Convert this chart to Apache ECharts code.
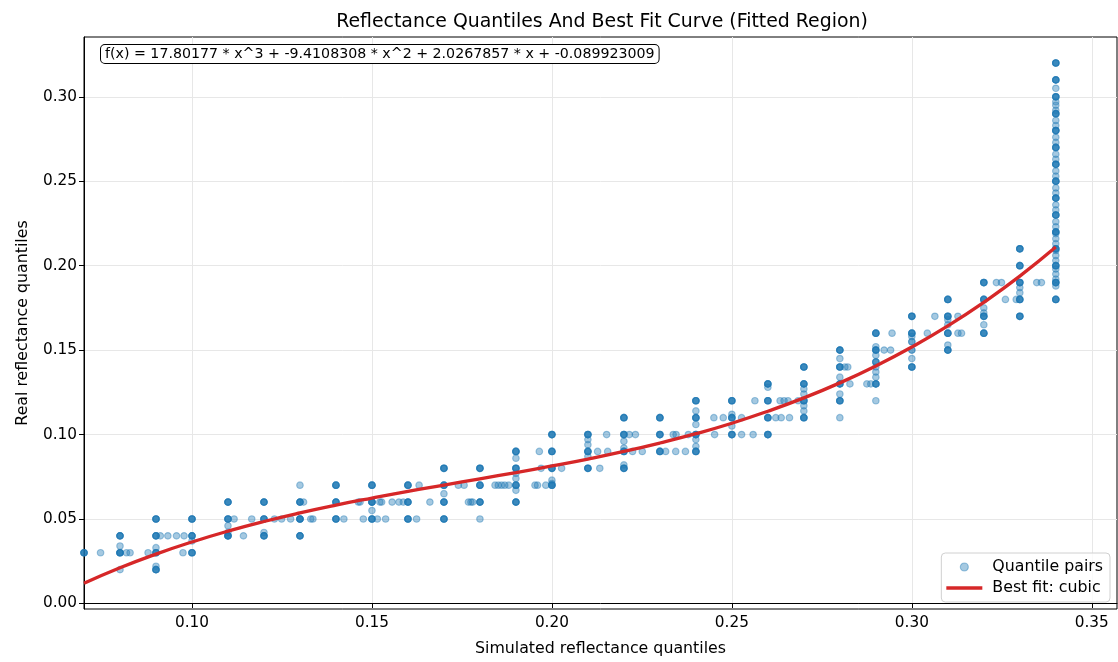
<!DOCTYPE html>
<html><head><meta charset="utf-8">
<script src="https://cdn.jsdelivr.net/npm/echarts@6/dist/echarts.min.js"></script>
<style>html,body{margin:0;padding:0;background:#fff}#c{width:1118px;height:662px}</style>
</head><body><div id="c"></div>
<script>
// Simulated (x) / real (y) reflectance quantile pairs; count = how many pairs share that spot
const quantileSim = [
  0.07,0.0746,
  0.08,0.08,0.08,0.08,0.0818,0.0828,0.0878,
  0.09,0.09,0.09,0.09,0.09,0.09,0.0912,0.0933,0.0957,0.0978,0.0975,
  0.10,0.10,0.10,0.10,
  0.11,0.11,0.11,0.11,0.11,0.1117,0.1143,0.1166,
  0.12,0.12,0.12,0.12,0.1229,0.1249,0.1274,
  0.13,0.13,0.13,0.13,0.131,0.133,0.1336,
  0.14,0.14,0.14,0.1422,0.1462,0.1467,0.1476,
  0.15,0.15,0.15,0.15,0.1515,0.1522,0.1527,0.1538,0.1556,0.1575,0.1587,
  0.16,0.16,0.16,0.1624,0.1631,0.1661,
  0.17,0.17,0.17,0.17,0.17,0.174,0.1756,0.1768,0.1775,0.178,
  0.18,0.18,0.18,0.18,0.1842,0.1851,0.186,0.1869,0.188,
  0.19,0.19,0.19,0.19,0.19,0.19,0.19,0.19,0.1953,0.196,0.1965,0.197,0.1983,0.2027,
  0.20,0.20,0.20,0.20,0.20,0.20,
  0.21,0.21,0.21,0.21,0.21,0.21,0.2127,0.2133,0.2152,0.2155,
  0.22,0.22,0.22,0.22,0.22,0.22,0.22,0.2215,0.2224,0.2232,0.2251,
  0.23,0.23,0.23,0.2316,0.2337,0.2345,0.2344,0.2371,0.2379,
  0.24,0.24,0.24,0.24,0.24,0.24,0.24,0.24,0.245,0.2452,0.2476,
  0.25,0.25,0.25,0.25,0.25,0.2527,0.2527,0.2559,0.2564,
  0.26,0.26,0.26,0.26,0.26,0.2622,0.2634,0.2645,0.2656,0.2637,0.266,0.2684,
  0.27,0.27,0.27,0.27,0.27,0.27,0.27,0.27,
  0.28,0.28,0.28,0.28,0.28,0.28,0.28,0.28,0.2814,0.2822,0.2828,0.2875,0.2886,
  0.29,0.29,0.29,0.29,0.29,0.29,0.29,0.29,0.29,0.29,0.2923,0.2941,0.2945,
  0.30,0.30,0.30,0.30,0.30,0.30,0.30,0.3043,0.3064,
  0.31,0.31,0.31,0.31,0.31,0.31,0.31,0.3128,0.3128,0.3138,
  0.32,0.32,0.32,0.32,0.32,0.32,0.32,0.3235,0.3249,0.326,0.329,
  0.33,0.33,0.33,0.33,0.33,0.33,0.33,0.3347,0.336,
  0.34,0.34,0.34,0.34,0.34,0.34,0.34,0.34,0.34,0.34,0.34,0.34,0.34,0.34,0.34,
  0.34,0.34,0.34,0.34,0.34,0.34,0.34,0.34,0.34,0.34,0.34,0.34,0.34,0.34,
  0.34,0.34,0.34,0.34,0.34,0.34,0.34,0.34,0.34,0.34,0.34,0.34,0.34,0.34
];
const quantileReal = [
  0.03,0.03,
  0.04,0.034,0.03,0.02,0.03,0.03,0.03,
  0.05,0.04,0.033,0.03,0.022,0.02,0.04,0.04,0.04,0.04,0.03,
  0.05,0.04,0.037,0.03,
  0.06,0.05,0.046,0.042,0.04,0.05,0.04,0.05,
  0.06,0.05,0.042,0.04,0.05,0.05,0.05,
  0.07,0.06,0.05,0.04,0.06,0.05,0.05,
  0.07,0.06,0.05,0.05,0.06,0.06,0.05,
  0.07,0.06,0.055,0.05,0.05,0.06,0.06,0.05,0.06,0.06,0.06,
  0.07,0.06,0.05,0.05,0.07,0.06,
  0.08,0.07,0.065,0.06,0.05,0.07,0.07,0.06,0.06,0.06,
  0.08,0.07,0.06,0.05,0.07,0.07,0.07,0.07,0.07,
  0.09,0.086,0.08,0.077,0.074,0.07,0.067,0.06,0.07,0.07,0.09,0.08,0.07,0.08,
  0.10,0.09,0.08,0.073,0.071,0.07,
  0.10,0.097,0.094,0.09,0.087,0.08,0.09,0.08,0.10,0.09,
  0.11,0.10,0.096,0.092,0.09,0.082,0.08,0.10,0.09,0.10,0.09,
  0.11,0.10,0.09,0.09,0.10,0.10,0.09,0.09,0.10,
  0.12,0.114,0.11,0.106,0.10,0.097,0.093,0.09,0.11,0.10,0.11,
  0.12,0.112,0.11,0.105,0.10,0.11,0.10,0.10,0.12,
  0.13,0.128,0.12,0.11,0.10,0.11,0.12,0.12,0.12,0.11,0.11,0.12,
  0.14,0.13,0.127,0.124,0.12,0.117,0.114,0.11,
  0.15,0.145,0.14,0.134,0.13,0.124,0.12,0.11,0.14,0.14,0.13,0.13,0.13,
  0.16,0.152,0.15,0.147,0.143,0.14,0.137,0.134,0.13,0.12,0.15,0.15,0.16,
  0.17,0.16,0.158,0.155,0.15,0.145,0.14,0.16,0.17,
  0.18,0.17,0.168,0.165,0.16,0.153,0.15,0.17,0.16,0.16,
  0.19,0.18,0.175,0.172,0.17,0.165,0.16,0.19,0.19,0.18,0.18,
  0.21,0.20,0.19,0.187,0.184,0.18,0.17,0.19,0.19,
  0.18,0.19,0.20,0.21,0.22,0.23,0.24,0.25,0.26,0.27,0.28,0.29,0.30,0.31,0.32,
  0.188,0.192,0.195,0.198,0.203,0.206,0.209,0.213,0.216,0.219,0.223,0.226,0.233,0.236,
  0.243,0.246,0.253,0.256,0.263,0.266,0.273,0.276,0.283,0.286,0.292,0.295,0.297,0.305
];
const quantileCount = [
  4,1,
  4,1,5,1,1,1,1,
  4,4,1,4,1,4,1,1,1,1,1,
  4,4,1,4,
  4,4,1,1,5,1,1,1,
  4,4,1,4,1,1,1,
  1,4,5,4,1,1,1,
  4,4,4,1,1,1,1,
  4,5,1,4,1,1,1,1,1,1,1,
  4,4,4,1,1,1,
  4,4,1,4,4,1,1,1,1,1,
  4,4,4,1,1,1,1,1,1,
  4,1,4,1,1,4,1,4,1,1,1,1,1,1,
  4,4,4,1,1,4,
  4,1,1,4,1,4,1,1,1,1,
  4,4,1,1,4,1,4,1,1,1,1,
  4,4,4,1,1,1,1,1,1,
  4,1,4,1,4,1,1,4,1,1,1,
  4,1,4,1,4,1,1,1,1,
  4,1,4,4,4,1,1,1,1,1,1,1,
  4,4,1,1,4,1,1,4,
  4,1,4,1,4,1,4,1,1,1,1,1,1,
  4,1,4,1,3,1,1,1,4,1,1,1,1,
  4,4,1,2,2,1,4,1,1,
  4,4,1,1,4,1,4,1,1,1,
  4,4,1,1,4,1,4,1,1,1,1,
  4,4,4,1,1,4,4,1,1,
  4,4,4,4,4,4,4,4,4,4,4,4,4,4,4,
  1,1,1,1,1,1,1,1,1,1,1,1,1,1,
  1,1,1,1,1,1,1,1,1,1,1,1,1,1
];
// Best-fit cubic curve
const fitSim = [0.07,0.08,0.09,0.10,0.11,0.12,0.13,0.14,0.15,0.16,0.17,0.18,0.19,0.20,
                0.21,0.22,0.23,0.24,0.25,0.26,0.27,0.28,0.29,0.30,0.31,0.32,0.33,0.34];
const fitReal = [0.0119,0.0211,0.0292,0.0364,0.0428,0.0485,0.0536,0.0582,0.0624,0.0664,0.0701,0.0738,0.0775,0.0814,
                 0.0855,0.0900,0.0950,0.1005,0.1067,0.1138,0.1217,0.1306,0.1406,0.1518,0.1643,0.1783,0.1938,0.2110];
const xTicks = [0.10,0.15,0.20,0.25,0.30,0.35];
const yTicks = [0.00,0.05,0.10,0.15,0.20,0.25,0.30];
const fitLabel = 'f(x) = 17.80177 * x^3 + -9.4108308 * x^2 + 2.0267857 * x + -0.089923009';

const FONT = 'DejaVu Sans';
const scatterData = [];
quantileSim.forEach((x, i) => {
  for (let k = 0; k < quantileCount[i]; k++) scatterData.push([x, quantileReal[i]]);
});
const lineData = fitSim.map((x, i) => [x, fitReal[i]]);

const chart = echarts.init(document.getElementById('c'), null, {renderer: 'canvas'});
chart.setOption({
  animation: false,
  backgroundColor: '#ffffff',
  title: {
    text: 'Reflectance Quantiles And Best Fit Curve (Fitted Region)',
    left: 597, top: 8, textAlign: 'center',
    textStyle: {fontFamily: FONT, fontSize: 18.9, fontWeight: 'normal', color: '#000'}
  },
  grid: {left: 84, right: 1, top: 37, bottom: 53, show: true, borderColor: '#000', borderWidth: 1, backgroundColor: 'transparent'},
  xAxis: {
    type: 'value', min: 0.07, max: 0.357,
    name: 'Simulated reflectance quantiles', nameLocation: 'middle', nameGap: 32,
    nameTextStyle: {fontFamily: FONT, fontSize: 15.8, color: '#000'},
    axisLine: {show: true, lineStyle: {color: '#000', width: 1}},
    axisTick: {show: true, length: 5, customValues: xTicks, lineStyle: {color: '#000'}},
    axisLabel: {customValues: xTicks, formatter: v => v.toFixed(2), fontFamily: FONT, fontSize: 15.3, color: '#000', margin: 7},
    splitLine: {show: true, lineStyle: {color: '#e7e7e7', width: 1}}
  },
  yAxis: {
    type: 'value', min: -0.0033, max: 0.3354,
    name: 'Real reflectance quantiles', nameLocation: 'middle', nameGap: 53,
    nameTextStyle: {fontFamily: FONT, fontSize: 15.8, color: '#000'},
    axisLine: {show: true, lineStyle: {color: '#000', width: 1}},
    axisTick: {show: true, length: 5, customValues: yTicks, lineStyle: {color: '#000'}},
    axisLabel: {customValues: yTicks, formatter: v => v.toFixed(2), fontFamily: FONT, fontSize: 15.3, color: '#000', margin: 7},
    splitLine: {show: true, lineStyle: {color: '#e7e7e7', width: 1}}
  },
  legend: {
    orient: 'vertical', right: 8, bottom: 60,
    backgroundColor: 'rgba(255,255,255,0.8)', borderColor: '#d0d0d0', borderWidth: 1, borderRadius: 4,
    padding: [6, 7, 6, 5], itemGap: 5, itemWidth: 36, itemHeight: 8,
    textStyle: {fontFamily: FONT, fontSize: 15.8, color: '#000', padding: [0, 0, 0, 5]},
    data: [
      {name: 'Quantile pairs', icon: 'circle',
       itemStyle: {color: '#1f77b4', borderColor: '#1f77b4', borderWidth: 1.2}},
      {name: 'Best fit: cubic', icon: 'path://M0,0 L36,0 L36,3.4 L0,3.4 Z',
       itemStyle: {color: '#d62728', borderWidth: 0}}
    ]
  },
  graphic: [{
    type: 'text', left: 100, top: 44, z: 100,
    style: {
      text: fitLabel, font: '14.2px "DejaVu Sans"', fill: '#000',
      backgroundColor: '#fff', borderColor: '#000', borderWidth: 1, borderRadius: 4, padding: [2, 4, 2, 4]
    }
  }],
  series: [
    {
      name: 'Quantile pairs', type: 'scatter', data: scatterData, symbol: 'circle', symbolSize: 6.5, z: 2, clip: true,
      itemStyle: {color: '#1f77b4', borderColor: '#1f77b4', borderWidth: 1.2, opacity: 0.4}
    },
    {
      name: 'Best fit: cubic', type: 'line', data: lineData, smooth: true, symbol: 'none', z: 3, clip: true,
      lineStyle: {color: '#d62728', width: 3.3}, itemStyle: {color: '#d62728'}
    }
  ]
});
</script>
</body></html>
